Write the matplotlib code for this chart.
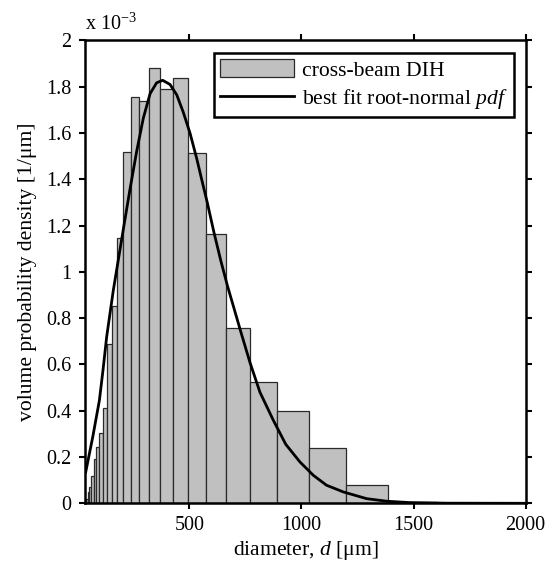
import matplotlib
matplotlib.use("Agg")
import matplotlib.pyplot as plt

plt.rcParams['font.family'] = ['Liberation Serif', 'DejaVu Serif']
plt.rcParams['mathtext.fontset'] = 'custom'
plt.rcParams['mathtext.rm'] = 'Liberation Serif'
plt.rcParams['mathtext.it'] = 'Liberation Serif:italic'

# histogram bin edges (um) and volume probability density (x 1e-3 per um)
bin_edges = [35.3, 40.9, 47.4, 54.8, 63.5, 73.6, 85.2, 98.7, 114.3, 132.3,
             153.3, 177.5, 205.6, 238.1, 275.8, 319.4, 370.0, 428.5, 496.2,
             574.7, 665.6, 770.9, 892.8, 1034.0, 1197.6, 1387.0, 1606.0]
bin_density = [0.01, 0.02, 0.05, 0.07, 0.117, 0.193, 0.245, 0.304, 0.41,
               0.687, 0.852, 1.146, 1.516, 1.755, 1.737, 1.879, 1.791,
               1.838, 1.514, 1.164, 0.759, 0.525, 0.398, 0.237, 0.081, 0.004]

# best-fit root-normal pdf
fit_d = [38, 70, 99, 115, 131.5, 161, 205, 235, 265, 295, 325, 354, 381,
         414, 444, 473, 503, 533, 555, 580, 610, 640, 670, 700, 730, 770,
         815, 874, 930, 993, 1053, 1112, 1187, 1291, 1380, 1484, 1650, 2000]
fit_pdf = [0.135, 0.29, 0.445, 0.575, 0.72, 0.92, 1.18, 1.355, 1.52, 1.665,
           1.77, 1.817, 1.828, 1.81, 1.765, 1.69, 1.60, 1.49, 1.40, 1.30,
           1.17, 1.05, 0.94, 0.84, 0.74, 0.61, 0.48, 0.36, 0.255, 0.179,
           0.121, 0.078, 0.049, 0.020, 0.009, 0.003, 0.0005, 0.0]

x_ticks = [500, 1000, 1500, 2000]
y_ticks = [0, 0.2, 0.4, 0.6, 0.8, 1, 1.2, 1.4, 1.6, 1.8, 2]
y_tick_labels = ['0', '0.2', '0.4', '0.6', '0.8', '1', '1.2', '1.4', '1.6', '1.8', '2']

fig = plt.figure(figsize=(5.47, 5.75), dpi=100)
ax = fig.add_axes([0.1563, 0.1247, 0.8047, 0.8049])

lefts = bin_edges[:-1]
widths = [b - a for a, b in zip(bin_edges[:-1], bin_edges[1:])]
bars = ax.bar(lefts, bin_density, width=widths, align='edge', color='#c0c0c0',
              edgecolor='#2a2a2a', linewidth=0.9, label='cross-beam DIH', zorder=2)
line, = ax.plot(fit_d, fit_pdf, color='black', linewidth=2.0,
                label='best fit root-normal $\\mathit{pdf}$', zorder=3)

ax.set_xlim(37, 2000)
ax.set_ylim(0, 2)
ax.set_xticks(x_ticks)
ax.set_xticklabels([str(t) for t in x_ticks])
ax.set_yticks(y_ticks)
ax.set_yticklabels(y_tick_labels)
ax.tick_params(direction='out', length=4, width=1.5, labelsize=14.5,
               top=True, right=True, pad=5)
ax.tick_params(axis='y', pad=6)
for s in ax.spines.values():
    s.set_linewidth(1.8)

ax.set_xlabel('diameter, $d$ [μm]', fontsize=15.6, labelpad=3)
ax.set_ylabel('volume probability density [1/μm]', fontsize=15.6, labelpad=7)

ax.text(0.0, 1.012, 'x 10$^{\\mathregular{-3}}$', transform=ax.transAxes,
        fontsize=14.5, ha='left', va='bottom')

leg = ax.legend([bars, line], ['cross-beam DIH', 'best fit root-normal $\\mathit{pdf}$'],
                loc='upper right', bbox_to_anchor=(0.973, 0.973),
                fontsize=15.6, frameon=True, fancybox=False, framealpha=1,
                edgecolor='black', handlelength=3.4, handleheight=0.85,
                handletextpad=0.35, borderpad=0.3, labelspacing=0.28,
                borderaxespad=0.0)
leg.get_frame().set_linewidth(1.8)

fig.savefig('out.png', dpi=100)
